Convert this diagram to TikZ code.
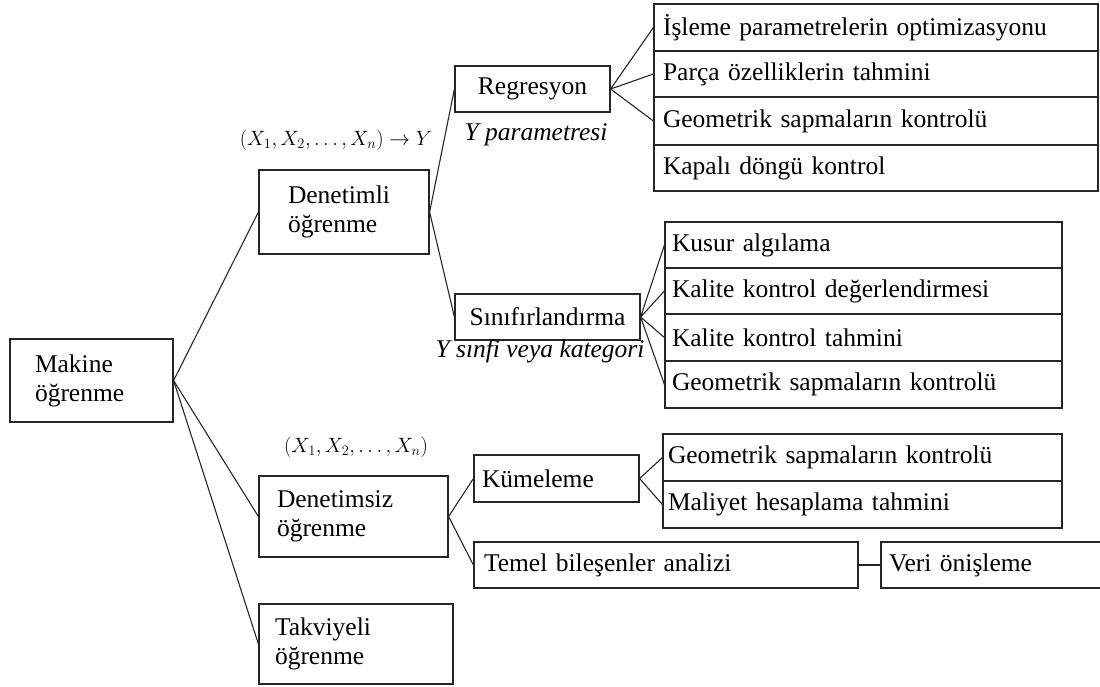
\documentclass[tikz,border=0pt]{standalone}
\usepackage{fontspec}
\setmainfont{Liberation Serif}
\newcommand{\bfs}{\fontsize{25.5}{29}\selectfont}
\newcommand{\mfs}{\fontsize{22}{26}\selectfont}
\tikzset{
  box/.style={draw=black!85, line width=1.2pt, rectangle, inner ysep=0pt, font=\bfs},
  lbox/.style={box, align=left},
  cbox/.style={box, align=center, inner xsep=0pt},
  conn/.style={draw=black!85, line width=1.1pt},
  lab/.style={inner sep=0pt, font=\bfs\itshape},
  mlab/.style={inner sep=0pt, font=\mfs}
}
\begin{document}
\begin{tikzpicture}[x=1pt,y=-1pt]
\useasboundingbox (0,0) rectangle (1100,686);
% main boxes
\node[lbox, text width=113pt, inner xsep=25pt, minimum height=83pt] (ml) at (91.5,380.5) {Makine\\öğrenme};
\node[lbox, text width=112pt, inner xsep=29pt, minimum height=84pt] (den) at (344,212) {Denetimli\\öğrenme};
\node[lbox, text width=153pt, inner xsep=18pt, minimum height=81pt] (dens) at (353.5,516.5) {Denetimsiz\\öğrenme};
\node[lbox, text width=162pt, inner xsep=16pt, minimum height=80pt] (tak) at (356,644) {Takviyeli\\öğrenme};
% second level
\node[cbox, minimum width=155pt, minimum height=46pt] (reg) at (532.5,89) {Regresyon};
\node[cbox, minimum width=185pt, minimum height=46pt] (sin) at (547.5,317) {Sınıfırlandırma};
\node[lbox, text width=149pt, inner xsep=8pt, minimum height=47pt] (kum) at (556.5,478.5) {Kümeleme};
\node[lbox, text width=364pt, inner xsep=10pt, minimum height=46pt] (tem) at (666,565) {Temel bileşenler analizi};
\node[lbox, text width=204.5pt, inner xsep=8pt, minimum height=46pt] (veri) at (991.25,565) {Veri önişleme};
% top list
\node[lbox, text width=426pt, inner xsep=9pt, minimum height=47pt] (r1) at (876,27.5) {İşleme parametrelerin optimizasyonu};
\node[lbox, text width=426pt, inner xsep=9pt, minimum height=46pt] (r2) at (876,74) {Parça özelliklerin tahmini};
\node[lbox, text width=426pt, inner xsep=9pt, minimum height=48pt] (r3) at (876,121) {Geometrik sapmaların kontrolü};
\node[lbox, text width=426pt, inner xsep=9pt, minimum height=46pt] (r4) at (876,168) {Kapalı döngü kontrol};
% second list
\node[lbox, text width=383pt, inner xsep=7pt, minimum height=46pt] (s1) at (863.5,245) {Kusur algılama};
\node[lbox, text width=383pt, inner xsep=7pt, minimum height=46pt] (s2) at (863.5,291) {Kalite kontrol değerlendirmesi};
\node[lbox, text width=383pt, inner xsep=7pt, minimum height=47pt] (s3) at (863.5,337.5) {Kalite kontrol tahmini};
\node[lbox, text width=383pt, inner xsep=7pt, minimum height=47pt] (s4) at (863.5,384.5) {Geometrik sapmaların kontrolü};
% third list
\node[lbox, text width=389pt, inner xsep=5pt, minimum height=47pt] (k1) at (862.5,457.5) {Geometrik sapmaların kontrolü};
\node[lbox, text width=389pt, inner xsep=5pt, minimum height=47pt] (k2) at (862.5,504.5) {Maliyet hesaplama tahmini};
% labels
\node[mlab, anchor=base] (m1) at (336,145) {$(X_1,X_2,\ldots,X_n)\rightarrow Y$};
\node[mlab, anchor=base] (m2) at (356,452) {$(X_1,X_2,\ldots,X_n)$};
\node[lab, anchor=base] (yp) at (536,140) {Y parametresi};
\node[lab, anchor=base] (ys) at (540,357) {Y sınfi veya kategori};
% connectors
\draw[conn] (den.west) -- (ml.east) -- (dens.west);
\draw[conn] (ml.east) -- (tak.west);
\draw[conn] (reg.west) -- (den.east) -- (sin.west);
\draw[conn] (r1.west) -- (reg.east) -- (r2.west);
\draw[conn] (reg.east) -- (r3.west);
\draw[conn] (s1.west) -- (sin.east) -- (s2.west);
\draw[conn] (s3.west) -- (sin.east) -- (s4.west);
\draw[conn] (kum.west) -- (dens.east) -- (tem.west);
\draw[conn] (k1.west) -- (kum.east) -- (k2.west);
\draw[conn] (tem.east) -- (veri.west);
\end{tikzpicture}
\end{document}
